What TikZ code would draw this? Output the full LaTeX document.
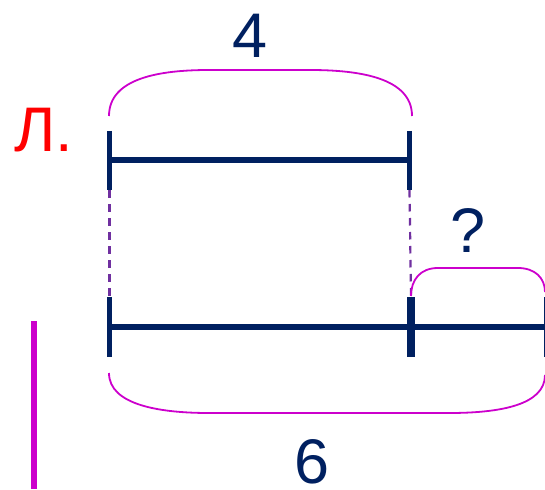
\documentclass[tikz,border=0pt]{standalone}
\usepackage{fontspec}
\setmainfont{Liberation Sans}
\definecolor{navy}{RGB}{0,32,96}
\definecolor{mag}{RGB}{204,0,204}
\definecolor{purp}{RGB}{112,48,160}
\tikzset{
  seg/.style={draw=navy,line width=5.5pt},
  tick/.style={draw=navy,line width=5.5pt},
  bigtick/.style={draw=navy,line width=8pt},
  brace/.style={draw=mag,line width=1.8pt},
  guide/.style={draw=purp,line width=2.2pt,dash pattern=on 7.5pt off 6.5pt},
  lbl/.style={inner sep=0pt,font=\fontsize{63}{63}\selectfont,text=navy},
}
\begin{document}
\begin{tikzpicture}[x=1pt,y=-1pt]
\useasboundingbox (0,0) rectangle (545,489);
\clip (0,0) rectangle (545,489);
% coordinates
\coordinate (tA) at (109.5,160);
\coordinate (tB) at (409.5,160);
\coordinate (tAt) at (109.5,131);
\coordinate (tAb) at (109.5,190);
\coordinate (tBt) at (409.5,131);
\coordinate (tBb) at (409.5,190);
\coordinate (bA) at (109.5,327);
\coordinate (bB) at (411,327);
\coordinate (bC) at (547,327);
\coordinate (bAt) at (109.5,297);
\coordinate (bAb) at (109.5,357);
\coordinate (bBt) at (411,297);
\coordinate (bBb) at (411,357);
\coordinate (bCt) at (547,297);
\coordinate (bCb) at (547,357);
% dashed guides
\draw[guide] (tAb) -- (bAt);
\draw[guide] (tBb) -- (bBt);
% top segment
\draw[seg] (tA) -- (tB);
\draw[tick] (tAt) -- (tAb);
\draw[tick] (tBt) -- (tBb);
% bottom segment
\draw[seg] (bA) -- (bC);
\draw[tick] (bAt) -- (bAb);
\draw[bigtick] (bBt) -- (bBb);
\draw[tick] (bCt) -- (bCb);
% braces
\coordinate (b4s) at (109,116);
\coordinate (b4e) at (412,116);
\draw[brace] (b4s) .. controls (109,78) and (160,70) .. (209,70) -- (310,70) .. controls (360,70) and (412,78) .. (b4e);
\coordinate (bqs) at (411,296);
\coordinate (bqe) at (545,292);
\draw[brace] (bqs) .. controls (411,280) and (420,268) .. (438,268) -- (518,268) .. controls (535,268) and (545,278) .. (bqe);
\coordinate (b6s) at (109,373);
\coordinate (b6e) at (545,375);
\draw[brace] (b6s) .. controls (109,405) and (160,413) .. (209,413) -- (449,413) .. controls (500,413) and (545,405) .. (b6e);
% labels
\node[lbl] (four) at (250,36) {4};
\node[lbl] (q) at (468,231) {?};
\node[lbl] (six) at (312,462) {6};
\node[lbl,text=red] (L) at (43.5,130) {Л.};
% magenta bar
\coordinate (mt) at (34,321);
\coordinate (mb) at (34,489);
\draw[draw=mag,line width=5.5pt] (mt) -- (mb);
\end{tikzpicture}
\end{document}
